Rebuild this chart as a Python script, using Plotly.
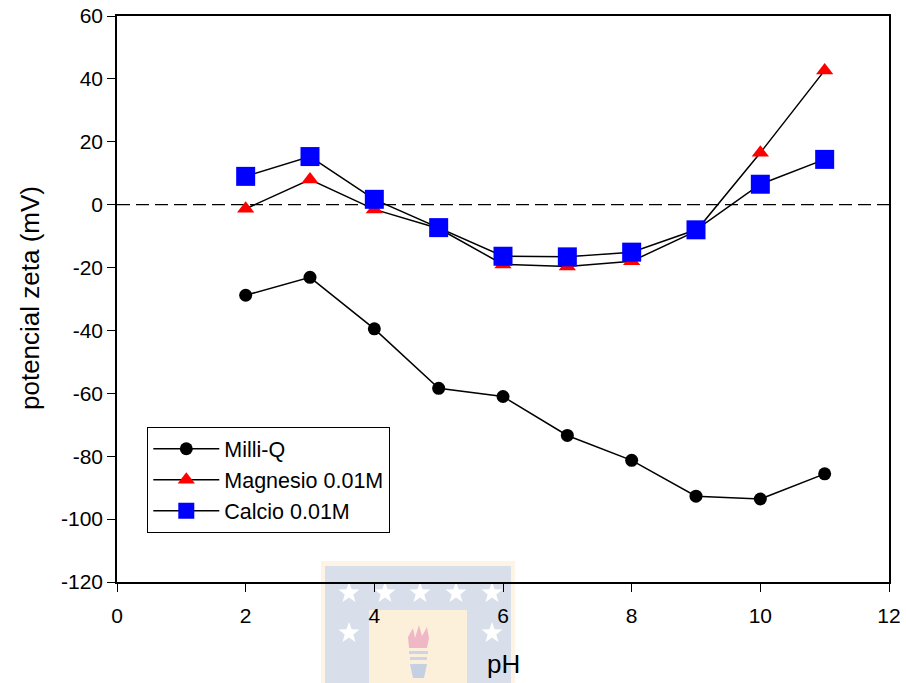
import math
import plotly.graph_objects as go

# ---- data ----
ph = [2, 3, 4, 5, 6, 7, 8, 9, 10, 11]
milliq = [-28.8, -23.1, -39.5, -58.4, -61.0, -73.4, -81.3, -92.7, -93.6, -85.6]
magnesio = [-1.3, 8.0, -1.5, -7.6, -19.0, -19.7, -18.0, -8.4, 16.5, 42.7]
calcio = [9.0, 15.3, 1.7, -7.3, -16.4, -16.6, -15.1, -8.0, 6.5, 14.4]
series_names = ["Milli-Q", "Magnesio 0.01M", "Calcio 0.01M"]
x_ticks = [0, 2, 4, 6, 8, 10, 12]
x_tick_labels = ["0", "2", "4", "6", "8", "10", "12"]
y_ticks = [-120, -100, -80, -60, -40, -20, 0, 20, 40, 60]
y_tick_labels = ["-120", "-100", "-80", "-60", "-40", "-20", "0", "20", "40", "60"]

FONT = "Arial, 'Liberation Sans', sans-serif"
W, H = 906, 683
L, R, T, B = 117, 17, 16, 101
PW, PH = W - L - R, H - T - B


def P(px, py):
    return (px - L) / PW, (H - B - py) / PH


fig = go.Figure()
fig.add_trace(go.Scatter(x=ph, y=milliq, name=series_names[0], mode="lines+markers",
                         line=dict(color="black", width=1.5),
                         marker=dict(symbol="circle", size=13, color="black", line=dict(width=0))))
fig.add_trace(go.Scatter(x=ph, y=magnesio, name=series_names[1], mode="lines+markers",
                         line=dict(color="black", width=1.5),
                         marker=dict(symbol="triangle-up", size=15, color="red", line=dict(width=0))))
fig.add_trace(go.Scatter(x=ph, y=calcio, name=series_names[2], mode="lines+markers",
                         line=dict(color="black", width=1.5),
                         marker=dict(symbol="square", size=19, color="blue", line=dict(width=0))))

shapes = []


def rect(x0, y0, x1, y1, color):
    a, b = P(x0, y1)
    c, d = P(x1, y0)
    shapes.append(dict(type="rect", xref="paper", yref="paper", x0=a, y0=b, x1=c, y1=d,
                       fillcolor=color, line=dict(width=0), layer="below"))


def poly(pts, color):
    path = ""
    for i, (px, py) in enumerate(pts):
        u, v = P(px, py)
        path += ("M" if i == 0 else "L") + f"{u:.5f},{v:.5f}"
    path += "Z"
    shapes.append(dict(type="path", xref="paper", yref="paper", path=path,
                       fillcolor=color, line=dict(width=0), layer="below"))


# faint watermark logo
rect(321, 561, 515, 700, "#FEF4E6")
rect(325, 566, 511, 700, "#D8DEEA")
rect(369, 610, 467, 700, "#FDF0DA")
for cx, cy in [(349, 593), (385, 593), (420, 593), (456, 593), (492, 593), (349, 633), (492, 633)]:
    pts = []
    for k in range(10):
        ang = -math.pi / 2 + k * math.pi / 5
        rr = 11 if k % 2 == 0 else 4.5
        pts.append((cx + rr * math.cos(ang), cy + rr * math.sin(ang)))
    poly(pts, "#FFFFFF")
poly([(409, 648), (408, 637), (413, 628), (415, 638), (419, 625), (422, 636), (427, 627), (429, 638), (427, 648)], "#F0B8C6")
rect(409, 651, 428, 654, "#CCD5E6")
rect(410, 657, 427, 660, "#CCD5E6")
poly([(410, 664), (427, 664), (424, 678), (413, 678)], "#C5D0E3")

# dashed zero line
shapes.append(dict(type="line", xref="paper", yref="y", x0=0, x1=1, y0=0, y1=0,
                   line=dict(color="black", width=1.3, dash="13px,6px"), layer="below"))

yt = P(30, 298)
xt = P(503, 664)
annotations = [
    dict(text="potencial zeta (mV)", xref="paper", yref="paper", x=yt[0], y=yt[1],
         xanchor="center", yanchor="middle", textangle=-90, showarrow=False,
         font=dict(family=FONT, size=26, color="black")),
    dict(text="pH", xref="paper", yref="paper", x=xt[0], y=xt[1],
         xanchor="center", yanchor="middle", showarrow=False,
         font=dict(family=FONT, size=26, color="black")),
]

fig.update_layout(
    width=W, height=H,
    margin=dict(l=L, r=R, t=T, b=B),
    paper_bgcolor="white", plot_bgcolor="rgba(0,0,0,0)",
    font=dict(family=FONT, size=21, color="black"),
    showlegend=True,
    legend=dict(x=P(147, 0)[0], y=P(0, 480)[1], xanchor="left", yanchor="middle",
                bgcolor="white", bordercolor="black", borderwidth=1.3,
                font=dict(family=FONT, size=21.5), itemwidth=66,
                tracegroupgap=0),
    shapes=shapes,
    annotations=annotations,
)
fig.update_xaxes(range=[0, 12], tickvals=x_ticks, ticktext=x_tick_labels, ticks="outside",
                 ticklen=8, tickwidth=1.3, automargin=False, ticklabelstandoff=6,
                 tickcolor="black", showline=True, linecolor="black", linewidth=1.5, mirror=True,
                 showgrid=False, zeroline=False, tickfont=dict(size=21))
fig.update_yaxes(range=[-120, 60], tickvals=y_ticks, ticktext=y_tick_labels, ticks="outside",
                 ticklen=8, tickwidth=1.3, automargin=False,
                 tickcolor="black", showline=True, linecolor="black", linewidth=1.5, mirror=True,
                 showgrid=False, zeroline=False, tickfont=dict(size=21))

fig.write_html("out.html", config={"displayModeBar": False},
               post_script="document.body.style.margin='0';document.body.style.overflow='hidden';")
